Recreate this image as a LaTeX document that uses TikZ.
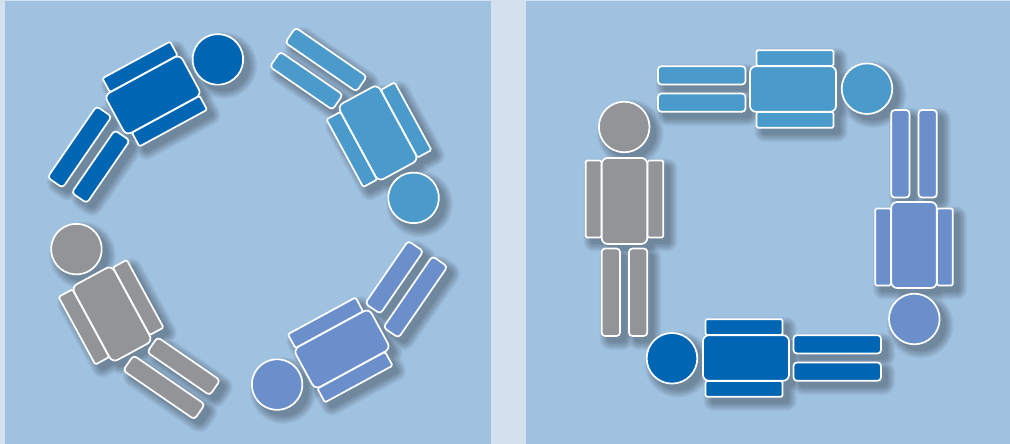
\documentclass[tikz,border=0pt]{standalone}
\definecolor{gutter}{HTML}{D3E0EE}
\definecolor{panel}{HTML}{A0C2E1}
\definecolor{sky}{HTML}{4A9BCB}
\definecolor{royal}{HTML}{0066B3}
\definecolor{peri}{HTML}{6A8FCB}
\definecolor{stone}{HTML}{929497}
\newcommand{\torsoparts}[1]{
  \path[part=#1,rounded corners=1.5pt] (-38.8,-36.5) rectangle (-23,40.5);
  \path[part=#1,rounded corners=1.5pt] (23,-36.5) rectangle (38.8,40.5);
  \path[part=#1,rounded corners=6pt] (-22.8,-43) rectangle (22.8,43);
  \path[part=#1] (-0.3,74) circle (25.3);
}
\tikzset{
  x=1pt,y=1pt,
  part/.style={fill=#1,draw=white,line width=1.7pt},
  blur/.style={part/.style={fill=black,draw=black,line width=#1,line join=round}},
  % head on +y
  pics/lying/.style={code={
    \torsoparts{#1}
    \path[part=#1,rounded corners=3.5pt] (-22.8,-135) rectangle (-4.5,-47.5);
    \path[part=#1,rounded corners=3.5pt] (4.5,-135) rectangle (22.8,-47.5);
  }},
  pics/seated/.style={code={
    \torsoparts{#1}
    \path[part=#1,rounded corners=3.5pt,shift={(11,-90)},rotate=27] (-9.2,-42.5) rectangle (9.2,44);
    \path[part=#1,rounded corners=3.5pt,shift={(38.5,-81)},rotate=27] (-9.2,-37) rectangle (9.2,39);
  }},
}
\begin{document}
\begin{tikzpicture}
  \useasboundingbox (0,0) rectangle (1010,444);
  \fill[gutter] (0,0) rectangle (1010,444);
  \fill[panel] (5,0) rectangle (491,443);
  \fill[panel] (526,0) rectangle (1010,443);
  % shadows first
  \foreach \w in {16,13,10,7,4,1}{
    \begin{scope}[transparency group,opacity=0.055,blur=\w pt]
      \foreach \x/\y/\a in {112/130/28.5,153/349/-61.5,378/311/-151.5,342/95/118.5}
        \pic[rotate=\a] at (\x+6,\y-6) {seated=black};
      \foreach \x/\y/\a in {624.5/243/0,793/355/-90,914/199/180,746/86/90}
        \pic[rotate=\a] at (\x+6,\y-6) {lying=black};
    \end{scope}
  }
  \foreach \x/\y/\a/\c in {112/130/28.5/stone,153/349/-61.5/royal,378/311/-151.5/sky,342/95/118.5/peri}
    \pic[rotate=\a] at (\x,\y) {seated=\c};
  \foreach \x/\y/\a/\c in {624.5/243/0/stone,793/355/-90/sky,914/199/180/peri,746/86/90/royal}
    \pic[rotate=\a] at (\x,\y) {lying=\c};
\end{tikzpicture}
\end{document}
